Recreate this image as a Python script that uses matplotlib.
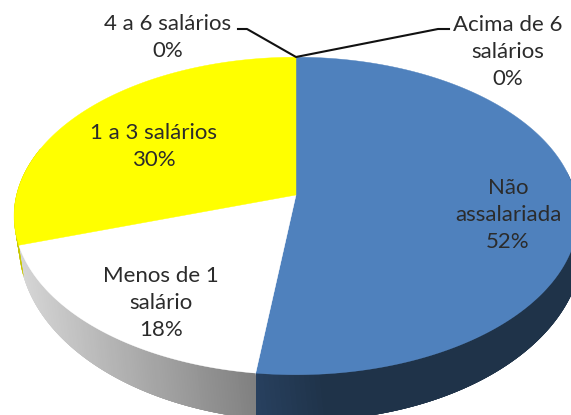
import numpy as np
import matplotlib
matplotlib.use("Agg")
import matplotlib.pyplot as plt
from matplotlib.colors import to_rgb
from matplotlib.patches import Rectangle

categories = ["Não assalariada", "Menos de 1 salário", "1 a 3 salários", "4 a 6 salários", "Acima de 6 salários"]
values = [52, 18, 30, 0, 0]
percent_labels = ["52%", "18%", "30%", "0%", "0%"]
face_colors = ["#4f81bd", "#ffffff", "#ffff00", "#9bbb59", "#8064a2"]
side_start = ["#28405f", "#d6d6d6", "#c8c800", "#777777", "#777777"]
side_end = ["#1f3349", "#808080", "#c8c800", "#777777", "#777777"]

CX, APEX_Y = 296.0, 195.0
A, B, K = 279.5, 156.0, 0.132
TOP_CY, TOP_RX, TOP_RY = 216.0, 282.0, 159.0
BOT_CX, BOT_CY, BOT_RX, BOT_RY = 301.0, 245.0, 282.0, 176.0

def top_point(theta):
    u, v = np.sin(theta), np.cos(theta)
    d = 1 + K * v
    return CX + A * u / d, APEX_Y - B * v / d

def bottom_point(theta):
    x, y = top_point(theta)
    phi = np.arctan2((x - CX) / TOP_RX, (TOP_CY - y) / TOP_RY)
    return BOT_CX + BOT_RX * np.sin(phi), BOT_CY - BOT_RY * np.cos(phi)

fig = plt.figure(figsize=(5.71, 4.15), dpi=100)
ax = fig.add_axes([0, 0, 1, 1])
ax.set_xlim(0, 571)
ax.set_ylim(415, 0)
ax.axis("off")

total = sum(values)
edges = np.cumsum([0] + values) / total * 2 * np.pi
seam_x = top_point(edges[1])[0]

# side wall (front half only): overlapping strips so no seams show
for i in range(len(values)):
    lo, hi = max(edges[i], np.pi * 0.45), min(edges[i + 1], np.pi * 1.6)
    if hi <= lo:
        continue
    if i == 0:
        hi += 0.04  # runs on a little, then is clipped to a vertical seam
    th = np.linspace(lo, hi, 120)
    xt, yt = top_point(th)
    xb, yb = bottom_point(th)
    c0, c1 = np.array(to_rgb(side_start[i])), np.array(to_rgb(side_end[i]))
    for j in range(len(th) - 1):
        k = min(j + 4, len(th) - 1)
        if i == 0:
            f = np.clip((xt[j] - seam_x) / 70, 0, 1)
        elif i == 1:
            f = np.clip((xt[j] - 20) / (seam_x - 20), 0, 1)
        else:
            f = 0
        patches = ax.fill([xt[j], xt[k], xb[k], xb[j]], [yt[j], yt[k], yb[k], yb[j]],
                          facecolor=tuple(c0 + (c1 - c0) * f), edgecolor="none",
                          zorder=1 + (i == 0) * 0.5)
        if i == 0:
            patches[0].set_clip_path(Rectangle((seam_x, 0), 400, 415, transform=ax.transData))

# top face
for i in range(len(values)):
    if values[i] == 0:
        continue
    th = np.linspace(edges[i], edges[i + 1], 200)
    x, y = top_point(th)
    ax.fill(np.r_[CX, x], np.r_[APEX_Y, y], facecolor=face_colors[i], edgecolor=face_colors[i],
            linewidth=0.3, zorder=3)

# leader lines to the zero slices
ax.plot([238, 247, 296, 438, 449], [29, 29, 57, 29, 29], color="#111111", lw=1.5,
        solid_joinstyle="round", zorder=4)

font = dict(family="Lato", fontsize=16, color="#2b2b2b", ha="center", va="center", linespacing=1.45, zorder=5)
ax.text(508, 215, "Não\nassalariada\n52%", **font)
ax.text(161, 303, "Menos de 1\nsalário\n18%", **font)
ax.text(154, 146.5, "1 a 3 salários\n30%", **font)
ax.text(168, 37.5, "4 a 6 salários\n0%", **font)
ax.text(508, 52, "Acima de 6\nsalários\n0%", **font)

fig.savefig("out.png", dpi=100)
